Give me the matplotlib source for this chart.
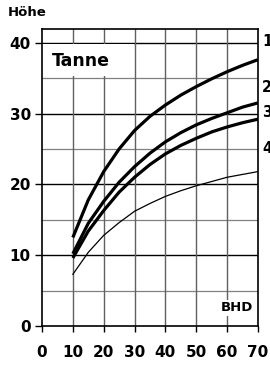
import matplotlib
matplotlib.use("Agg")
import matplotlib.pyplot as plt
from matplotlib.patches import Rectangle

plt.rcParams['font.family'] = ['DejaVu Sans']

bhd = [10, 15, 20, 25, 30, 35, 40, 45, 50, 55, 60, 65, 70]
curve1 = [12.5, 17.8, 21.8, 25.0, 27.6, 29.6, 31.2, 32.6, 33.8, 34.9, 35.9, 36.8, 37.6]
curve2 = [10.2, 14.5, 17.6, 20.3, 22.5, 24.4, 26.0, 27.3, 28.4, 29.3, 30.1, 30.9, 31.5]
curve3 = [9.6, 13.4, 16.3, 18.9, 21.0, 22.8, 24.3, 25.5, 26.5, 27.4, 28.1, 28.7, 29.2]
curve4 = [7.3, 10.4, 12.8, 14.6, 16.2, 17.3, 18.3, 19.1, 19.8, 20.4, 21.0, 21.4, 21.8]
curve_labels = ["1", "2", "3", "4"]
label_y = [40.2, 33.7, 30.2, 25.0]
x_ticks = [0, 10, 20, 30, 40, 50, 60, 70]
y_ticks = [0, 10, 20, 30, 40]

fig = plt.figure(figsize=(2.70, 3.65), dpi=100)
ax = fig.add_axes([42/270, 1-326/365, 216/270, (326-28.5)/365])
ax.set_xlim(0, 70)
ax.set_ylim(0, 42)

# grid
for yv in range(5, 42, 5):
    if yv % 10 == 0:
        ax.axhline(yv, color='black', lw=1.0, zorder=1)
    else:
        ax.axhline(yv, color='#808080', lw=0.9, zorder=1)
for xv in range(10, 70, 10):
    ax.axvline(xv, color='#606060', lw=1.0, zorder=1)

# white cell behind the title
ax.add_patch(Rectangle((0, 35.25), 29.8, 4.55, facecolor='white', edgecolor='none', zorder=1.5))

ax.plot(bhd, curve1, color='black', lw=2.3, zorder=3, solid_capstyle='butt')
ax.plot(bhd, curve2, color='black', lw=2.3, zorder=3, solid_capstyle='butt')
ax.plot(bhd, curve3, color='black', lw=2.3, zorder=3, solid_capstyle='butt')
ax.plot(bhd, curve4, color='black', lw=0.9, zorder=3)

for spine in ax.spines.values():
    spine.set_linewidth(1.2)
    spine.set_color('black')

ax.set_xticks(x_ticks)
ax.set_yticks(y_ticks)
ax.tick_params(axis='x', direction='out', length=4, width=1, pad=10, labelsize=11)
ax.tick_params(axis='y', direction='out', length=5, width=1, pad=3, labelsize=11)
for lab in ax.get_xticklabels() + ax.get_yticklabels():
    lab.set_fontweight('bold')

ax.text(3.2, 37.4, "Tanne", fontsize=12.5, fontweight='bold', va='center', ha='left', zorder=4)
ax.text(63.3, 2.6, "BHD", fontsize=9.5, fontweight='bold', va='center', ha='center', zorder=4,
        bbox=dict(facecolor='white', edgecolor='none', pad=1.0))
fig.text(8/270, 1-13/365, "Höhe", fontsize=9.5, fontweight='bold', va='center', ha='left')

for lab, yv in zip(curve_labels, label_y):
    ax.text(71.3, yv, lab, fontsize=10.5, fontweight='bold', va='center', ha='left', clip_on=False)

fig.savefig("out.png", dpi=100)
